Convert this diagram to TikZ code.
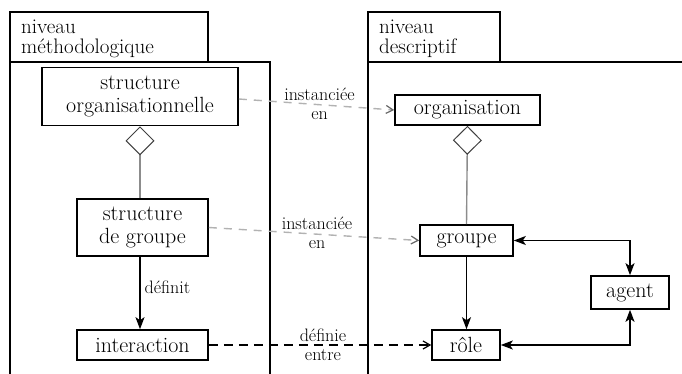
\documentclass[tikz,border=0pt]{standalone}
\usetikzlibrary{arrows.meta}
\begin{document}
\begin{tikzpicture}[x=1pt,y=-1pt,
  frame/.style={line width=1.6pt,black},
  box/.style={draw,line width=1.6pt,align=center,inner sep=1pt,
     font=\fontsize{22}{23}\selectfont},
  lbl/.style={align=center,inner sep=1pt,font=\fontsize{18}{19}\selectfont},
  head/.style={align=left,anchor=north west,inner sep=0pt,font=\fontsize{21}{20}\selectfont},
  agg/.style={draw=black!45,line width=1.4pt,
     -{Diamond[open,length=29pt,width=29pt,line width=1pt,color=black!75]}},
  solidarr/.style={line width=1.4pt,-{Stealth[length=12pt,width=9pt,inset=3pt]}},
  bidir/.style={line width=1.4pt,{Stealth[length=12pt,width=9pt,inset=3pt]}-{Stealth[length=12pt,width=9pt,inset=3pt]}},
  inst/.style={draw=black!30,line width=1.4pt,dash pattern=on 8pt off 7pt,
     -{Straight Barb[length=7pt,width=8pt,line width=1.2pt,color=black!60]}},
  defe/.style={line width=1.6pt,dash pattern=on 9pt off 6pt,
     -{Straight Barb[length=7pt,width=8pt,line width=1.2pt]}}
]
\useasboundingbox (0,0) rectangle (682,374);
% frames
\draw[frame] (10,374) -- (10,12) -- (208,12) -- (208,62);
\draw[frame] (10,62) -- (270,62) -- (270,374);
\draw[frame] (368,374) -- (368,12) -- (500,12) -- (500,62);
\draw[frame] (368,62) -- (682,62);
\node[head] (h1) at (21,20) {niveau\\méthodologique};
\node[head] (h2) at (379,20) {niveau\\descriptif};
% nodes
\node[box,minimum width=196pt,minimum height=58pt] (so) at (140,96.5) {structure\\organisationnelle};
\node[box,minimum width=131pt,minimum height=57pt] (sg) at (142.5,227.5) {structure\\de groupe};
\node[box,minimum width=131pt,minimum height=30pt] (inter) at (142.5,345) {interaction};
\node[box,minimum width=145pt,minimum height=30pt] (org) at (467.5,110) {organisation};
\node[box,minimum width=93pt,minimum height=31pt] (grp) at (466.5,240.5) {groupe};
\node[box,minimum width=68pt,minimum height=30pt] (role) at (466,345) {rôle};
\node[box,minimum width=78pt,minimum height=33pt] (agent) at (630,292.5) {agent};
% aggregation
\draw[agg] (so.south |- sg.north) -- (so.south);
\draw[agg] (grp.north) -- (org.south);
% solid arrows
\draw[solidarr] (so.south |- sg.south) -- node[lbl,right,pos=0.42,xshift=3pt] (l1) {définit} (so.south |- inter.north);
\draw[solidarr] (grp.south) -- (grp.south |- role.north);
\draw[bidir] (grp.east) -| (agent.north);
\draw[bidir] (role.east) -| (agent.south);
% dashed
\draw[inst] ([yshift=-2.5pt]so.east) -- node[lbl,xshift=3pt,yshift=1pt] (l2) {instanciée\\en} (org.west);
\draw[inst] (sg.east) -- node[lbl,xshift=3pt,yshift=1pt] (l3) {instanciée\\en} (grp.west);
\draw[defe] (inter.east) -- node[lbl,xshift=3pt] (l4) {définie\\entre} (role.west);
\end{tikzpicture}
\end{document}
